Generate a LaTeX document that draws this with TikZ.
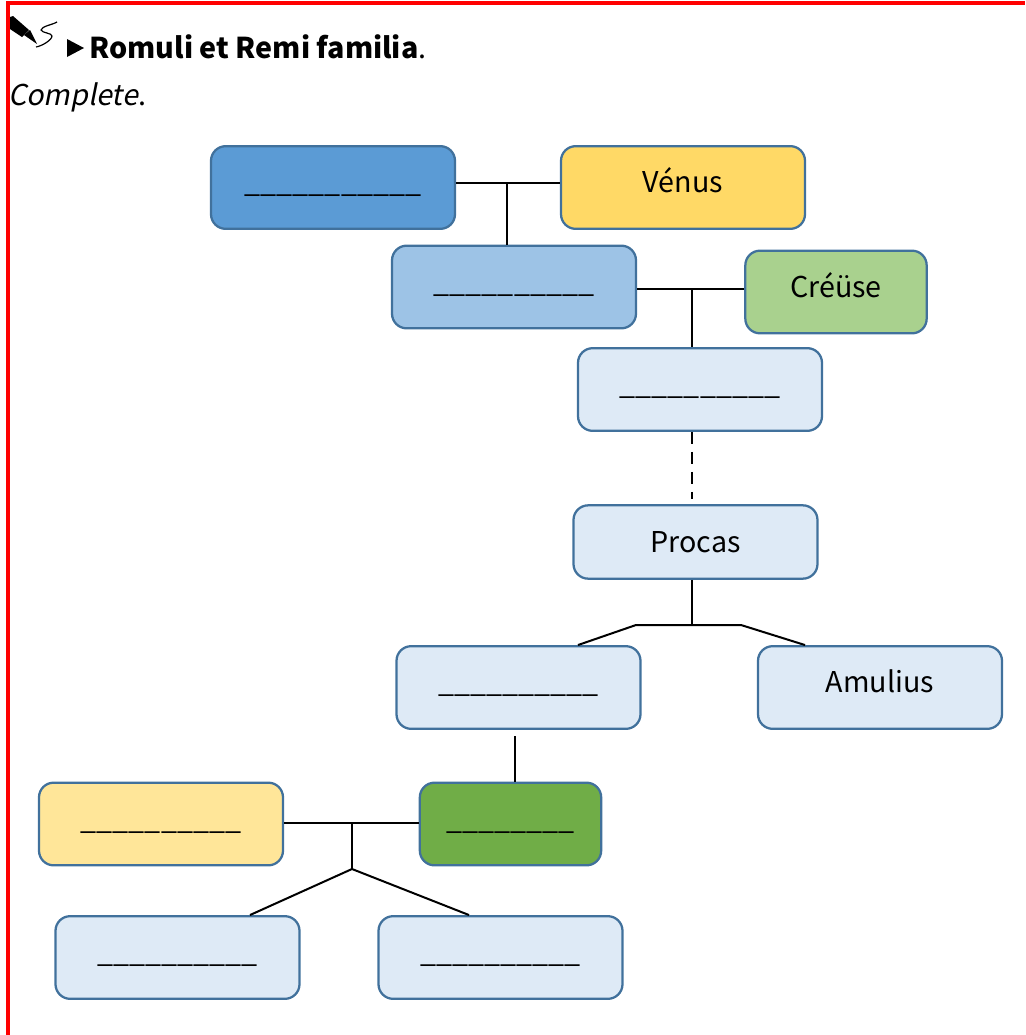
\documentclass[tikz,border=0pt]{standalone}
\usepackage{fontspec}
\setmainfont[AutoFakeSlant=0.2]{Noto Sans CJK SC}
\definecolor{edgeblue}{HTML}{41719C}
\definecolor{fatherblue}{HTML}{5B9BD5}
\definecolor{sonblue}{HTML}{9DC3E6}
\definecolor{paleblue}{HTML}{DEEAF6}
\definecolor{goldyellow}{HTML}{FFD966}
\definecolor{paleyellow}{HTML}{FFE699}
\definecolor{palegreen}{HTML}{A9D18E}
\definecolor{darkgreen}{HTML}{70AD47}
\tikzset{
    familybox/.style={draw=edgeblue, line width=1.7pt, rounded corners=11pt, minimum width=183pt,
        minimum height=62pt, inner sep=0pt, font=\fontsize{21.5pt}{24pt}\selectfont,
        text height=18pt, text depth=10.5pt},
    link/.style={line width=1.5pt, black}
}
\begin{document}
\begin{tikzpicture}[x=0.75pt, y=-0.75pt]
    \useasboundingbox (0,0) rectangle (1025,1035);

    % Cadre rouge
    \fill[red] (6,1) rectangle (1025,5);
    \fill[red] (6,1) rectangle (10,1035);

    % Icone et titre
    \fill (10,17) -- (13,16) -- (29,30) -- (22,37) -- (10,29) -- cycle;
    \fill (24,35) -- (30,30) -- (37,44) -- cycle;
    \draw[line width=0.9pt, line join=round] (36,47) .. controls (42,46) and (52,40) .. (52,36) .. controls (52,33) and (42,33) .. (41,30) .. controls (42,26) and (52,25) .. (57,22);
    \fill (67,39) -- (84,48) -- (67,57) -- cycle;
    \node[anchor=base west, inner sep=0pt, font=\fontsize{21.5pt}{24pt}\selectfont] (titre) at (89,58) {\textbf{Romuli et Remi familia}.};
    \node[anchor=base west, inner sep=0pt, font=\fontsize{21.5pt}{24pt}\selectfont] (consigne) at (8,105) {\textit{Complete}.};

    % Les boites
    \node[familybox, fill=fatherblue] (anchise) at (333,187.5) {\_\_\_\_\_\_\_\_\_\_\_};
    \node[familybox, fill=goldyellow] (venus) at (683,187.5) {Vénus};
    \node[familybox, fill=sonblue] (enee) at (514,287) {\_\_\_\_\_\_\_\_\_\_};
    \node[familybox, fill=palegreen, minimum width=136pt] (creuse) at (836,292) {Créüse};
    \node[familybox, fill=paleblue] (ascagne) at (700,389.5) {\_\_\_\_\_\_\_\_\_\_};
    \node[familybox, fill=paleblue, minimum height=55pt, text depth=3pt] (procas) at (695.5,542) {Procas};
    \node[familybox, fill=paleblue] (numitor) at (518.5,687.5) {\_\_\_\_\_\_\_\_\_\_};
    \node[familybox, fill=paleblue] (amulius) at (880,687.5) {Amulius};
    \node[familybox, fill=paleyellow] (mars) at (161,824) {\_\_\_\_\_\_\_\_\_\_};
    \node[familybox, fill=darkgreen, minimum width=136pt] (rhea) at (510.5,824) {\_\_\_\_\_\_\_\_};
    \node[familybox, fill=paleblue] (romulus) at (177.5,957.5) {\_\_\_\_\_\_\_\_\_\_};
    \node[familybox, fill=paleblue] (remus) at (500.5,957.5) {\_\_\_\_\_\_\_\_\_\_};

    % Points de jonction
    \coordinate (j1) at (507,183);
    \coordinate (j2) at (692,289);
    \coordinate (d1) at (692,499);
    \coordinate (j3) at (692,625);
    \coordinate (j3a) at (636,625);
    \coordinate (j3b) at (741,625);
    \coordinate (n1) at (515,736);
    \coordinate (j4) at (352,823);
    \coordinate (j5) at (352,869);

    % Les liens
    \draw[link] (anchise.east |- j1) -- (venus.west |- j1);
    \draw[link] (j1) -- (enee.north -| j1);
    \draw[link] (enee.east |- j2) -- (creuse.west |- j2);
    \draw[link] (j2) -- (ascagne.north -| j2);
    \draw[link, dash pattern=on 9pt off 6pt] (ascagne.south -| d1) -- (d1);
    \draw[link] (procas.south -| j3) -- (j3);
    \draw[link] (numitor.north -| 578,0) -- (j3a) -- (j3b) -- (amulius.north -| 805,0);
    \draw[link] (n1) -- (rhea.north -| n1);
    \draw[link] (mars.east |- j4) -- (rhea.west |- j4);
    \draw[link] (j4) -- (j5);
    \draw[link] (romulus.north -| 250,0) -- (j5) -- (remus.north -| 469,0);
\end{tikzpicture}
\end{document}
